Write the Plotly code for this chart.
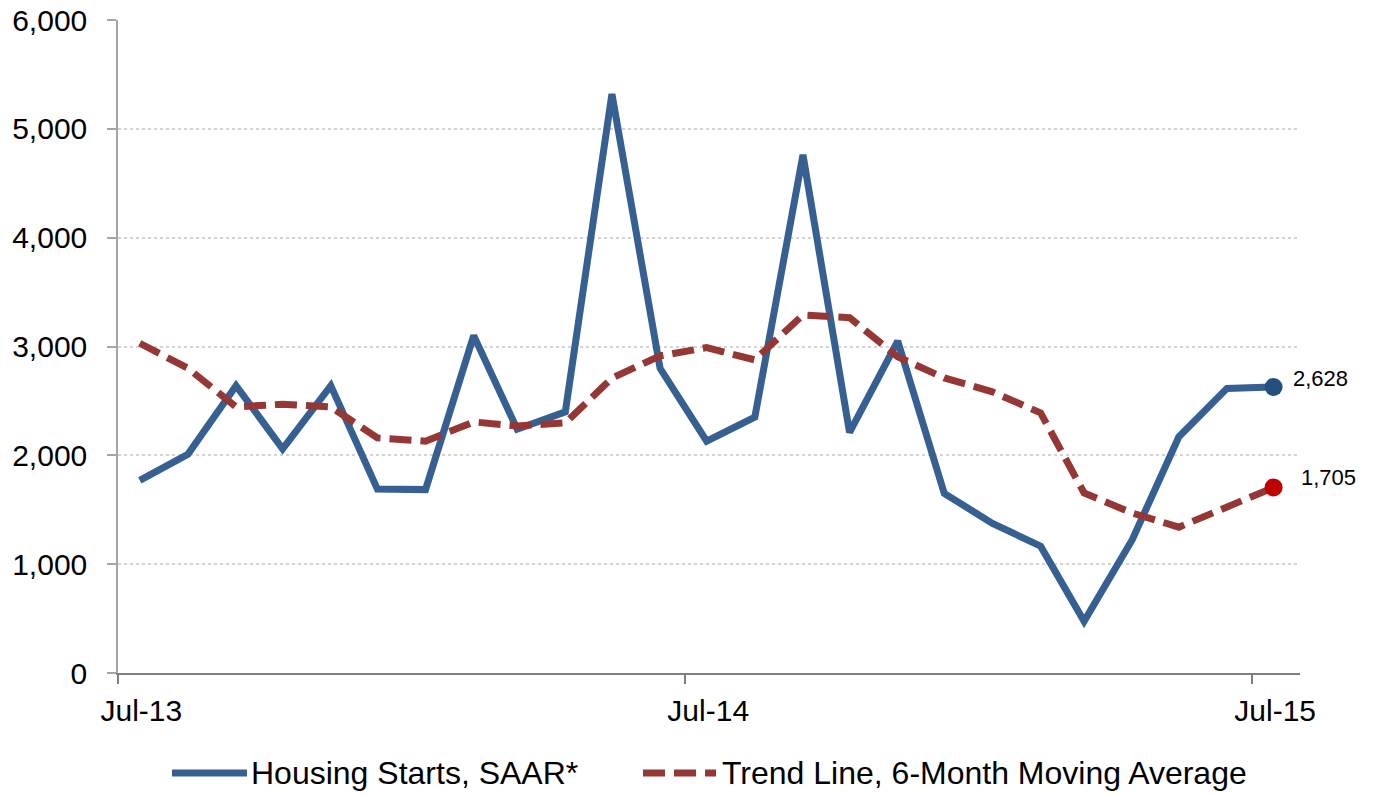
import plotly.graph_objects as go

# ---- data ----
months = ["2013-07", "2013-08", "2013-09", "2013-10", "2013-11", "2013-12",
          "2014-01", "2014-02", "2014-03", "2014-04", "2014-05", "2014-06",
          "2014-07", "2014-08", "2014-09", "2014-10", "2014-11", "2014-12",
          "2015-01", "2015-02", "2015-03", "2015-04", "2015-05", "2015-06",
          "2015-07"]
housing_starts = [1770, 2010, 2640, 2060, 2640, 1690, 1685, 3100, 2240, 2400,
                  5320, 2800, 2130, 2350, 4760, 2210, 3050, 1650, 1375, 1165,
                  475, 1225, 2170, 2615, 2628]
trend_6m = [3030, 2800, 2445, 2470, 2445, 2160, 2130, 2307, 2270, 2298,
            2710, 2914, 2990, 2877, 3290, 3265, 2905, 2711, 2583, 2390,
            1654, 1470, 1340, 1520, 1705]
tick_months = ["2013-07", "2014-07", "2015-07"]
tick_labels = ["Jul-13", "Jul-14", "Jul-15"]
series_names = ["Housing Starts, SAAR*", "Trend Line, 6-Month Moving Average"]

# ---- styling ----
BLUE = "#366092"
BLUE_DOT = "#24507f"
RED = "#953735"
RED_DOT = "#c00000"
FONT = "Arial, Liberation Sans, sans-serif"
W, H = 1374, 795
L, R, T, B = 118, 74, 20, 122

x = [m + "-15" for m in months]

fig = go.Figure()
fig.add_trace(go.Scatter(x=x, y=housing_starts, mode="lines",
                         line=dict(color=BLUE, width=7), name=series_names[0],
                         showlegend=False))
fig.add_trace(go.Scatter(x=x, y=trend_6m, mode="lines",
                         line=dict(color=RED, width=7, dash="22px,9px"),
                         name=series_names[1], showlegend=False))
# end markers
fig.add_trace(go.Scatter(x=[x[-1]], y=[housing_starts[-1]], mode="markers",
                         marker=dict(color=BLUE_DOT, size=18), showlegend=False))
fig.add_trace(go.Scatter(x=[x[-1]], y=[trend_6m[-1]], mode="markers",
                         marker=dict(color=RED_DOT, size=18), showlegend=False))

fig.add_annotation(x=x[-1], y=housing_starts[-1], text=f"{housing_starts[-1]:,}",
                   showarrow=False, xanchor="left", yanchor="middle",
                   xshift=17, yshift=8, font=dict(family=FONT, size=22, color="black"))
fig.add_annotation(x=x[-1], y=trend_6m[-1], text=f"{trend_6m[-1]:,}",
                   showarrow=False, xanchor="left", yanchor="middle",
                   xshift=25, yshift=10, font=dict(family=FONT, size=22, color="black"))

# ---- custom legend ----
pw, ph = W - L - R, H - T - B
def px_x(p):
    return (p - L) / pw
def px_y(p):
    return (H - B - p) / ph

ly = px_y(773)
fig.add_shape(type="line", xref="paper", yref="paper", x0=px_x(172), x1=px_x(247),
              y0=ly, y1=ly, line=dict(color=BLUE, width=7))
fig.add_annotation(xref="paper", yref="paper", x=px_x(249), y=ly, text=series_names[0],
                   showarrow=False, xanchor="left", yanchor="middle",
                   font=dict(family=FONT, size=32, color="black"))
fig.add_shape(type="line", xref="paper", yref="paper", x0=px_x(643), x1=px_x(716),
              y0=ly, y1=ly, line=dict(color=RED, width=7, dash="22px,9px"))
fig.add_annotation(xref="paper", yref="paper", x=px_x(720), y=ly, text=series_names[1],
                   showarrow=False, xanchor="left", yanchor="middle",
                   font=dict(family=FONT, size=32, color="black"))

fig.update_layout(
    width=W, height=H, autosize=False,
    margin=dict(l=L, r=R, t=T, b=B, pad=0),
    paper_bgcolor="white", plot_bgcolor="white",
    font=dict(family=FONT, color="black"),
    showlegend=False,
)
fig.update_xaxes(
    type="date", range=["2013-07-01", "2015-08-01"], automargin=False,
    tickmode="array", tickvals=[m + "-16" for m in tick_months], ticktext=tick_labels,
    ticks="", tickfont=dict(family=FONT, size=30, color="black"),
    ticklabelstandoff=10,
    showgrid=False, zeroline=False,
    showline=True, linecolor="#7f7f7f", linewidth=2,
    minor=dict(tickmode="array", tickvals=[m + "-01" for m in tick_months],
               ticks="outside", ticklen=9, tickwidth=1.5, tickcolor="#7f7f7f",
               showgrid=False),
)
fig.update_yaxes(
    range=[0, 6000], dtick=1000, tickformat=",", automargin=False,
    tickfont=dict(family=FONT, size=30, color="black"),
    ticks="outside", ticklen=9, tickwidth=1.5, tickcolor="#a6a6a6",
    ticklabelstandoff=14,
    showline=True, linecolor="#a6a6a6", linewidth=1.5,
    showgrid=True, gridcolor="#d4d4d4", gridwidth=1.5, griddash="dot",
    zeroline=False,
)

post = ("document.body.style.margin='0';document.body.style.overflow='hidden';"
        "var d=document.getElementById('{plot_id}');"
        "d.style.position='fixed';d.style.top='0px';d.style.left='0px';")
fig.write_html("out.html", post_script=post, config={"displayModeBar": False})
